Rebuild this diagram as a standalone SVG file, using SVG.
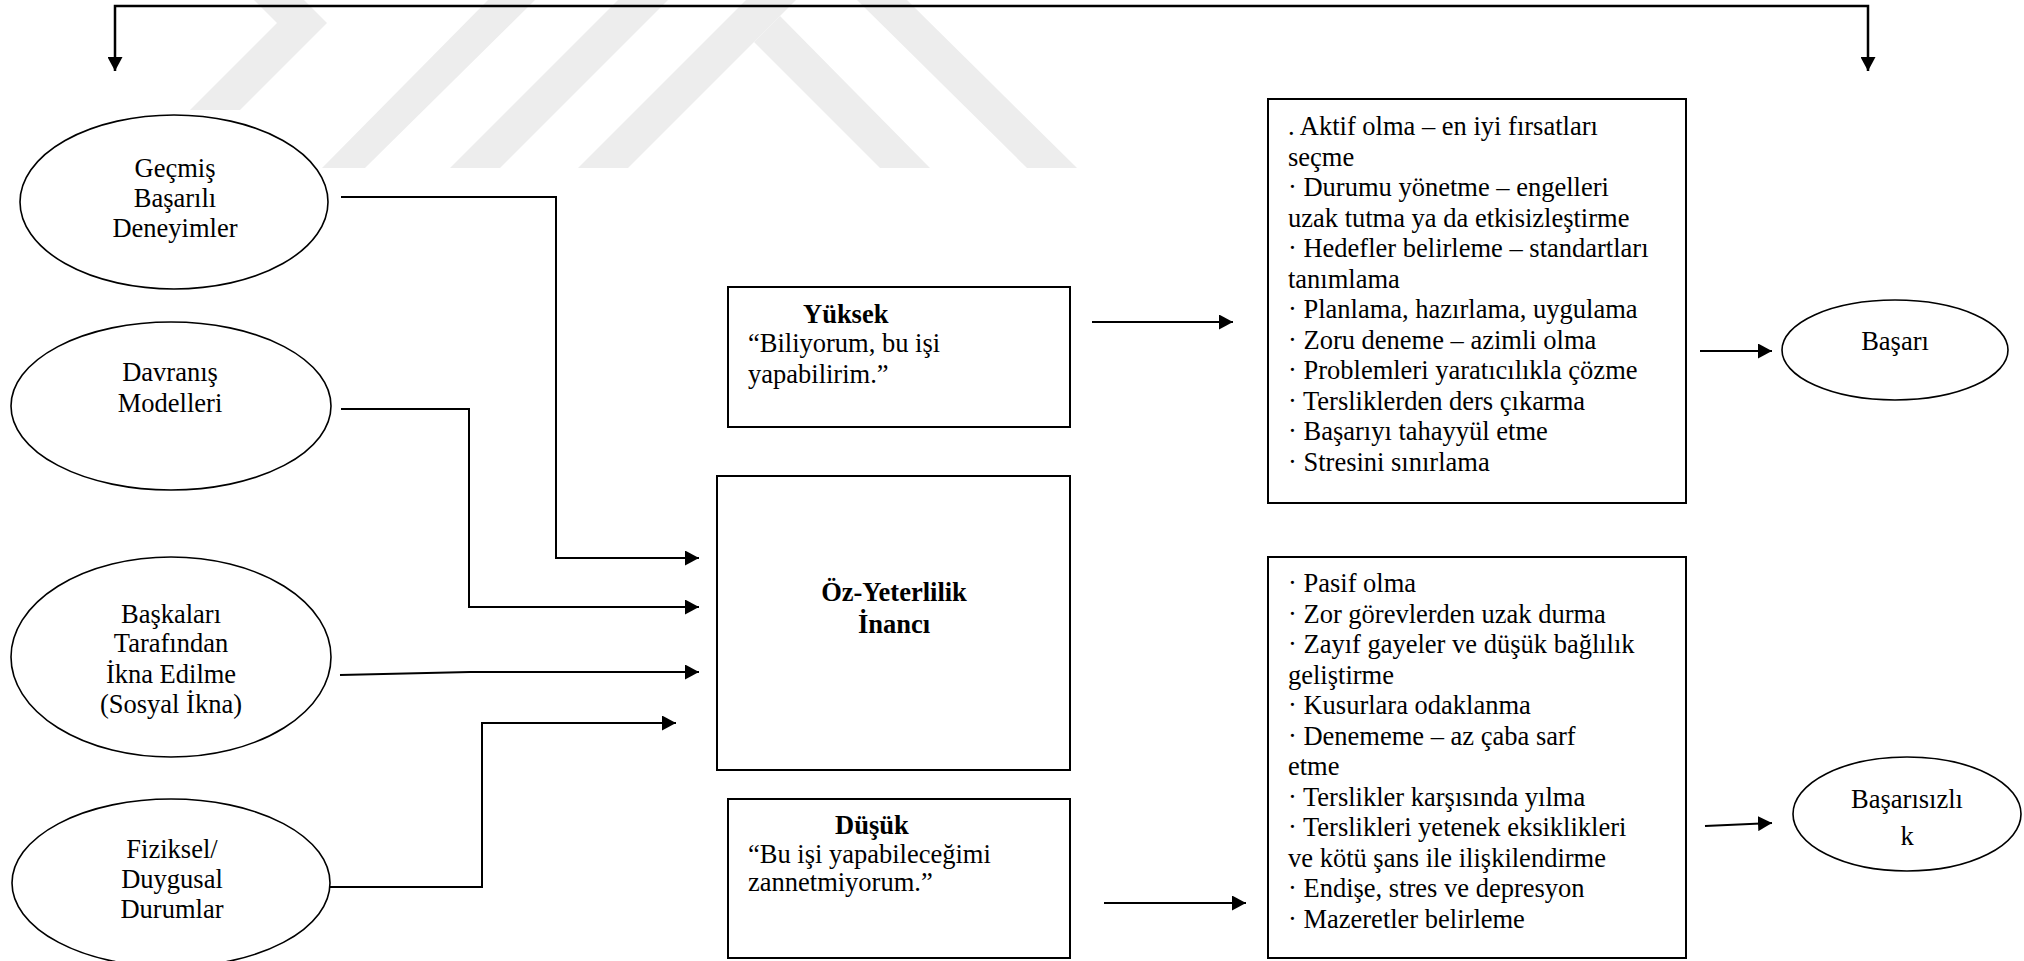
<svg xmlns="http://www.w3.org/2000/svg" width="2024" height="961" viewBox="0 0 2024 961" font-family="'Liberation Serif', 'Times New Roman', 'DejaVu Serif', serif">
<style>
text{font-family:'Liberation Serif','Times New Roman','DejaVu Serif',serif;font-size:26.5px;fill:#000}
.b{font-weight:bold}
.c{text-anchor:middle}
.node{fill:#fff;stroke:#000;stroke-width:2}
.ell{fill:none;stroke:#000;stroke-width:1.6}
.wm{fill:#ededed}
.con{fill:none;stroke:#000;stroke-width:2}
.top{fill:none;stroke:#000;stroke-width:2.5}
</style>
<defs>
<marker id="ah" viewBox="0 0 14 15" refX="14" refY="7.5" markerWidth="14" markerHeight="15" orient="auto-start-reverse" markerUnits="userSpaceOnUse">
<path d="M0,0 L14,7.5 L0,15 z" fill="#000"/>
</marker>
</defs>
<rect width="2024" height="961" fill="#fff"/>
<g id="watermark">
<polygon class="wm" points="190,110 240,110 327,23 304,0 254,0 277,23"/>
<polygon class="wm" points="322,168 365,168 535,0 488,0"/>
<polygon class="wm" points="450,168 500,168 668,0 618,0"/>
<polygon class="wm" points="578,168 628,168 796,0 746,0"/>
<polygon class="wm" points="754,42 780,16 930,168 880,168"/>
<polygon class="wm" points="857,0 907,0 1077,168 1027,168"/>
</g>
<g id="connectors">
<polyline class="top" points="115,71 115,6 1868,6 1868,71" marker-start="url(#ah)" marker-end="url(#ah)"/>
<polyline class="con" points="341,197 556,197 556,558 699,558" marker-end="url(#ah)"/>
<polyline class="con" points="341,409 469,409 469,607 699,607" marker-end="url(#ah)"/>
<polyline class="con" points="340,675 470,672 699,672" marker-end="url(#ah)"/>
<polyline class="con" points="330,887 482,887 482,723 676,723" marker-end="url(#ah)"/>
<line class="con" x1="1092" y1="322" x2="1233" y2="322" marker-end="url(#ah)"/>
<line class="con" x1="1104" y1="903" x2="1246" y2="903" marker-end="url(#ah)"/>
<line class="con" x1="1700" y1="351" x2="1772" y2="351" marker-end="url(#ah)"/>
<line class="con" x1="1705" y1="826" x2="1772" y2="823" marker-end="url(#ah)"/>
</g>
<g id="gecmis">
<ellipse class="ell" cx="174" cy="202" rx="154" ry="87"/>
<text class="c" x="175" y="177">Geçmiş</text>
<text class="c" x="175" y="207">Başarılı</text>
<text class="c" x="175" y="237">Deneyimler</text>
</g>
<g id="davranis">
<ellipse class="ell" cx="171" cy="406" rx="160" ry="84"/>
<text class="c" x="170" y="381">Davranış</text>
<text class="c" x="170" y="412">Modelleri</text>
</g>
<g id="baskalari">
<ellipse class="ell" cx="171" cy="657" rx="160" ry="100"/>
<text class="c" x="171" y="623">Başkaları</text>
<text class="c" x="171" y="652">Tarafından</text>
<text class="c" x="171" y="683">İkna Edilme</text>
<text class="c" x="171" y="713">(Sosyal İkna)</text>
</g>
<g id="fiziksel">
<ellipse class="ell" cx="171" cy="883" rx="159" ry="84"/>
<text class="c" x="172" y="858">Fiziksel/</text>
<text class="c" x="172" y="888">Duygusal</text>
<text class="c" x="172" y="918">Durumlar</text>
</g>
<g id="yuksek">
<rect class="node" x="728" y="287" width="342" height="140"/>
<text class="b" x="803" y="323">Yüksek</text>
<text x="748" y="352">“Biliyorum, bu işi</text>
<text x="748" y="383">yapabilirim.”</text>
</g>
<g id="ozyeterlilik">
<rect class="node" x="717" y="476" width="353" height="294"/>
<text class="b c" x="894" y="601">Öz-Yeterlilik</text>
<text class="b c" x="894" y="633">İnancı</text>
</g>
<g id="dusuk">
<rect class="node" x="728" y="799" width="342" height="159"/>
<text class="b" x="835" y="834">Düşük</text>
<text x="748" y="863">“Bu işi yapabileceğimi</text>
<text x="748" y="891">zannetmiyorum.”</text>
</g>
<g id="olumlu">
<rect class="node" x="1268" y="99" width="418" height="404"/>
<text x="1288" y="135">. Aktif olma – en iyi fırsatları</text>
<text x="1288" y="165.5">seçme</text>
<text x="1288" y="196">· Durumu yönetme – engelleri</text>
<text x="1288" y="226.5">uzak tutma ya da etkisizleştirme</text>
<text x="1288" y="257">· Hedefler belirleme – standartları</text>
<text x="1288" y="287.5">tanımlama</text>
<text x="1288" y="318">· Planlama, hazırlama, uygulama</text>
<text x="1288" y="348.5">· Zoru deneme – azimli olma</text>
<text x="1288" y="379">· Problemleri yaratıcılıkla çözme</text>
<text x="1288" y="409.5">· Tersliklerden ders çıkarma</text>
<text x="1288" y="440">· Başarıyı tahayyül etme</text>
<text x="1288" y="470.5">· Stresini sınırlama</text>
</g>
<g id="olumsuz">
<rect class="node" x="1268" y="557" width="418" height="401"/>
<text x="1288" y="592">· Pasif olma</text>
<text x="1288" y="622.5">· Zor görevlerden uzak durma</text>
<text x="1288" y="653">· Zayıf gayeler ve düşük bağlılık</text>
<text x="1288" y="683.5">geliştirme</text>
<text x="1288" y="714">· Kusurlara odaklanma</text>
<text x="1288" y="744.5">· Denememe – az çaba sarf</text>
<text x="1288" y="775">etme</text>
<text x="1288" y="805.5">· Terslikler karşısında yılma</text>
<text x="1288" y="836">· Terslikleri yetenek eksiklikleri</text>
<text x="1288" y="866.5">ve kötü şans ile ilişkilendirme</text>
<text x="1288" y="897">· Endişe, stres ve depresyon</text>
<text x="1288" y="927.5">· Mazeretler belirleme</text>
</g>
<g id="basari">
<ellipse class="ell" cx="1895" cy="350" rx="113" ry="50"/>
<text class="c" x="1895" y="350">Başarı</text>
</g>
<g id="basarisizlik">
<ellipse class="ell" cx="1907" cy="814" rx="114" ry="57"/>
<text class="c" x="1907" y="808">Başarısızlı</text>
<text class="c" x="1907" y="845">k</text>
</g>
</svg>
